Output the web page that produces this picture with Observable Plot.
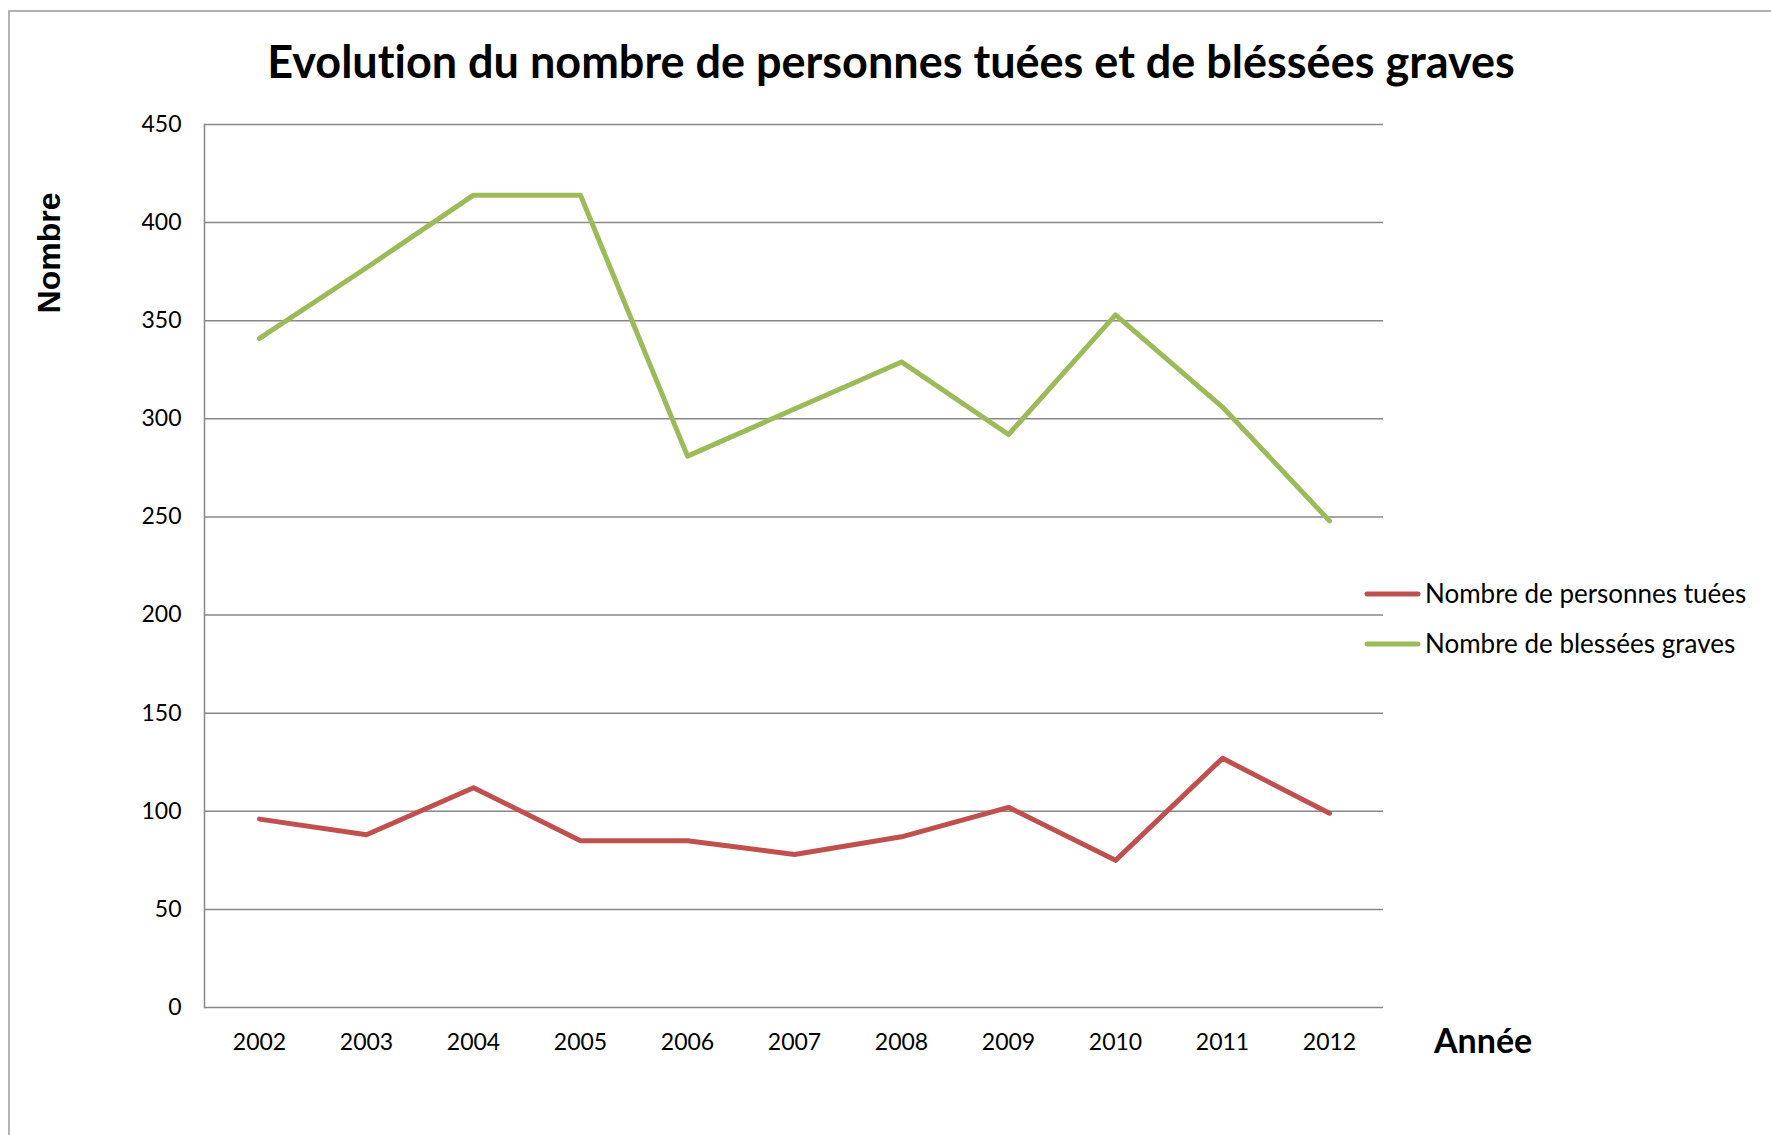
<!DOCTYPE html>
<html><head><meta charset="utf-8">
<script src="https://cdn.jsdelivr.net/npm/d3@7"></script>
<script src="https://cdn.jsdelivr.net/npm/@observablehq/plot@0.6"></script>
<style>body{margin:0;background:#fff;} svg{display:block;} text{font-variant-ligatures:none;}</style>
</head><body><div id="chart"></div>
<script>
const years = ["2002","2003","2004","2005","2006","2007","2008","2009","2010","2011","2012"];
const tues = [96, 88, 112, 85, 85, 78, 87, 102, 75, 127, 99];
const blesses = [341, 377, 414, 414, 281, 305, 329, 292, 353, 306, 248];
const yTicks = [0, 50, 100, 150, 200, 250, 300, 350, 400, 450];
const seriesNames = ["Nombre de personnes tuées", "Nombre de blessées graves"];
const seriesColors = ["#C0504D", "#9BBB59"];
const titleText = "Evolution du nombre de personnes tuées et de bléssées graves";
const yLabel = "Nombre";
const xLabel = "Année";

const data = [
  ...years.map((y, i) => ({year: y, value: tues[i], serie: seriesNames[0]})),
  ...years.map((y, i) => ({year: y, value: blesses[i], serie: seriesNames[1]}))
];

const W = 1771, H = 1135;
const plot = Plot.plot({
  width: W, height: H,
  marginLeft: 204, marginRight: 388, marginTop: 124, marginBottom: 128,
  style: {fontFamily: "Lato, sans-serif", fontSize: "23px", color: "#000", background: "#fff"},
  x: {type: "point", domain: years, padding: 0.5, label: null},
  y: {domain: [0, 450], label: null},
  color: {domain: seriesNames, range: seriesColors},
  marks: [
    Plot.ruleY(yTicks, {stroke: "#888", strokeWidth: 1.5}),
    Plot.frame({anchor: "left", stroke: "#888", strokeWidth: 1.5}),
    Plot.axisY({ticks: yTicks, tickSize: 0, tickPadding: 23, label: null, fontSize: 23}),
    Plot.axisX({tickSize: 0, tickPadding: 26, label: null, fontSize: 23}),
    Plot.line(data, {x: "year", y: "value", z: "serie", stroke: "serie", strokeWidth: 5,
      strokeLinejoin: "round", strokeLinecap: "round"})
  ]
});

const svg = d3.select(plot);
svg.insert("rect", ":first-child")
  .attr("x", 9).attr("y", 11).attr("width", W + 20).attr("height", H + 20)
  .attr("fill", "none").attr("stroke", "#999").attr("stroke-width", 1.5);

svg.append("text").text(titleText)
  .attr("x", 891).attr("y", 78).attr("text-anchor", "middle")
  .attr("font-family", "Lato, sans-serif").attr("font-weight", "bold").attr("font-size", 45)
  .attr("fill", "#000");

svg.append("text").text(yLabel)
  .attr("transform", "translate(60,253) rotate(-90)").attr("text-anchor", "middle")
  .attr("font-family", "Liberation Sans, Arial, sans-serif").attr("font-weight", "bold").attr("font-size", 32)
  .attr("fill", "#000");

svg.append("text").text(xLabel)
  .attr("x", 1434).attr("y", 1053).attr("text-anchor", "start")
  .attr("font-family", "Lato, sans-serif").attr("font-weight", "bold").attr("font-size", 34)
  .attr("fill", "#000");

const legendY = [594, 644];
const leg = svg.append("g").attr("text-anchor", "start");
seriesNames.forEach((name, i) => {
  leg.append("line").attr("x1", 1367).attr("x2", 1418).attr("y1", legendY[i]).attr("y2", legendY[i])
    .attr("stroke", seriesColors[i]).attr("stroke-width", 5).attr("stroke-linecap", "round");
  leg.append("text").text(name).attr("x", 1425).attr("y", legendY[i]).attr("dy", "0.35em")
    .attr("text-anchor", "start")
    .attr("font-family", "Lato, sans-serif").attr("font-size", 26).attr("fill", "#000");
});

document.getElementById("chart").appendChild(plot);
</script>
</body></html>
